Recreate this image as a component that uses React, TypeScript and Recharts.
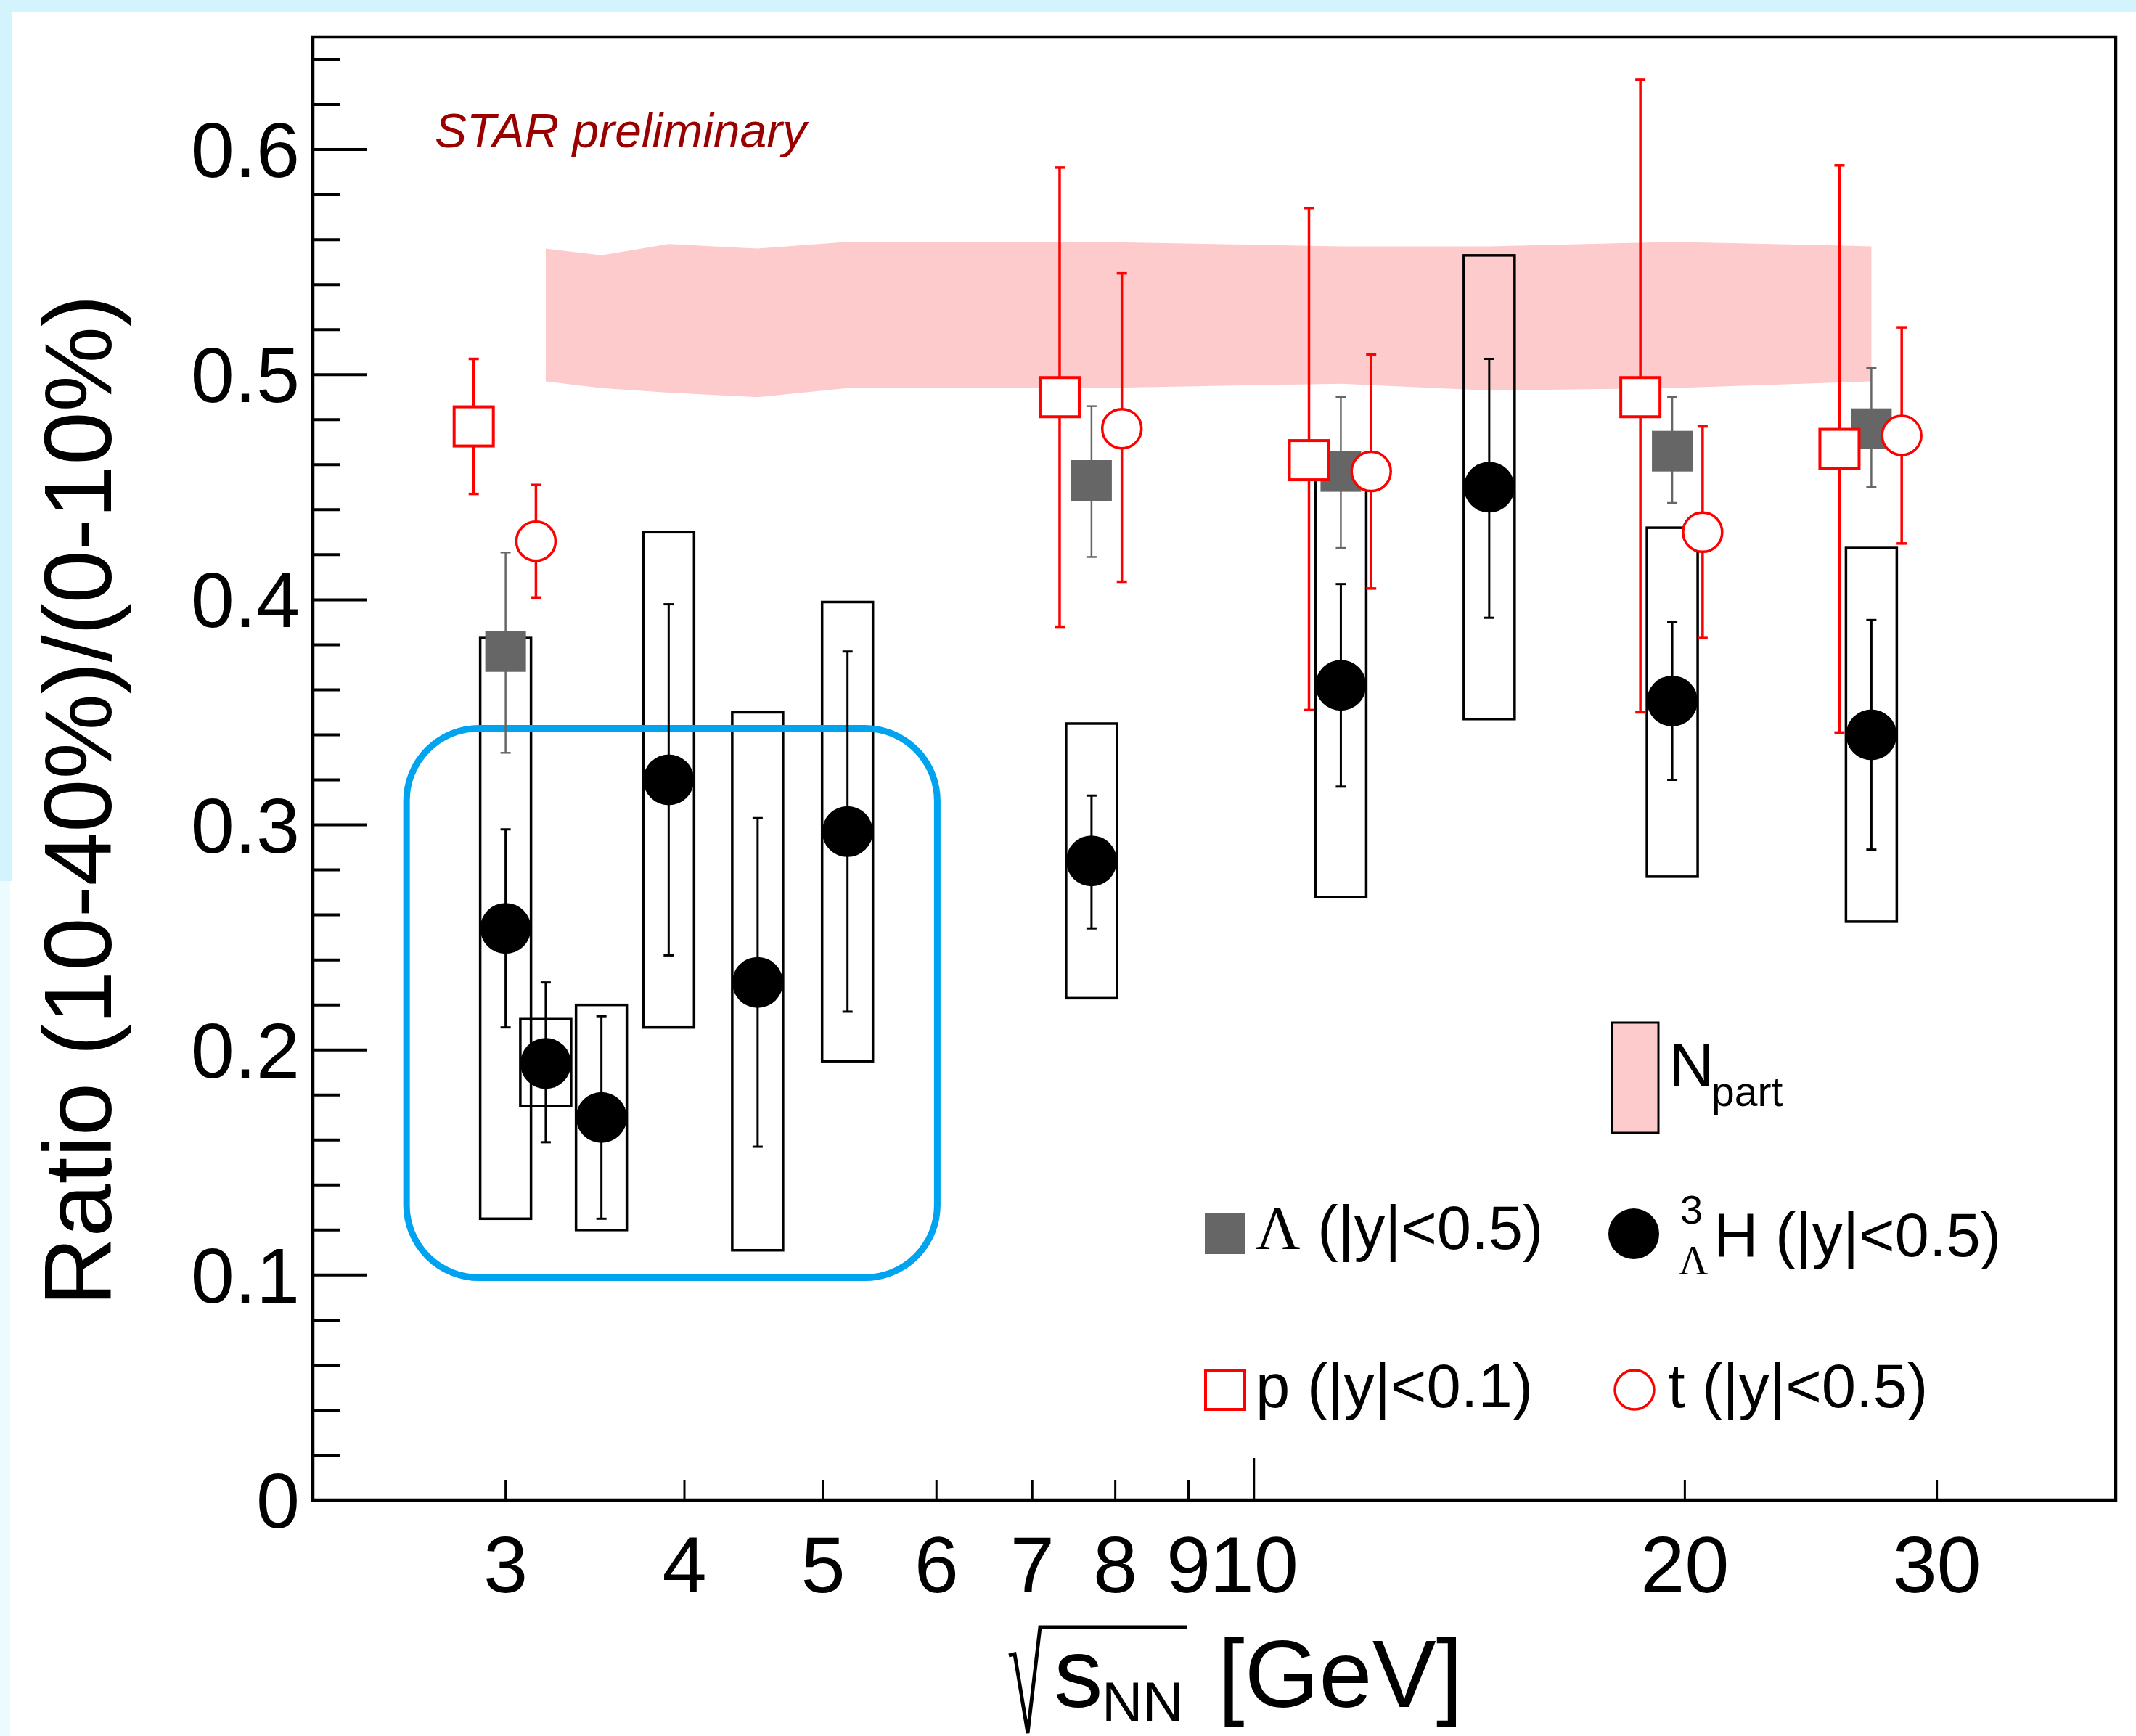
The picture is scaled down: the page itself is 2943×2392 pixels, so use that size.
import React from 'react';
import {
  ComposedChart,
  Area,
  Scatter,
  ErrorBar,
  XAxis,
  YAxis,
  ReferenceArea,
} from 'recharts';

// beam energies, sqrt(s_NN) in GeV
const energies = [3.0, 3.2, 3.5, 3.9, 4.5, 5.2, 7.7, 11.5, 14.6, 19.6, 27];

// hypertriton, |y|<0.5 : value, stat. error range, sys. box range
const htVal = [0.254, 0.194, 0.170, 0.320, 0.230, 0.297, 0.284, 0.362, 0.450, 0.355, 0.340];
const htStatLo = [0.210, 0.159, 0.125, 0.242, 0.157, 0.217, 0.254, 0.317, 0.392, 0.320, 0.289];
const htStatHi = [0.298, 0.230, 0.215, 0.398, 0.303, 0.377, 0.313, 0.407, 0.507, 0.390, 0.391];
const htSysLo = [0.125, 0.175, 0.120, 0.210, 0.111, 0.195, 0.223, 0.268, 0.347, 0.277, 0.257];
const htSysHi = [0.383, 0.214, 0.220, 0.430, 0.350, 0.399, 0.345, 0.456, 0.553, 0.432, 0.423];

// Lambda, proton, triton
const pidEnergies = [3.0, 7.7, 11.5, 19.6, 27];
const lamVal = [0.377, 0.453, 0.457, 0.466, 0.476];
const lamLo = [0.332, 0.419, 0.423, 0.443, 0.450];
const lamHi = [0.421, 0.486, 0.490, 0.490, 0.503];

const pVal = [0.477, 0.490, 0.462, 0.490, 0.467];
const pLo = [0.447, 0.388, 0.351, 0.350, 0.341];
const pHi = [0.507, 0.592, 0.574, 0.631, 0.593];

const tVal = [0.426, 0.476, 0.457, 0.430, 0.473];
const tLo = [0.401, 0.408, 0.405, 0.383, 0.425];
const tHi = [0.451, 0.545, 0.509, 0.477, 0.521];

// Npart scaling band
const npartEnergies = [3.2, 3.5, 3.9, 4.5, 5.2, 7.7, 11.5, 14.6, 19.6, 27];
const npartLo = [0.497, 0.494, 0.492, 0.490, 0.494, 0.494, 0.496, 0.493, 0.494, 0.497];
const npartHi = [0.556, 0.553, 0.558, 0.556, 0.559, 0.559, 0.557, 0.557, 0.559, 0.557];

const xTicks = [3, 4, 5, 6, 7, 8, 9, 10, 20, 30];
const yTicks = [
  0, 0.02, 0.04, 0.06, 0.08, 0.1, 0.12, 0.14, 0.16, 0.18, 0.2, 0.22, 0.24, 0.26, 0.28, 0.3,
  0.32, 0.34, 0.36, 0.38, 0.4, 0.42, 0.44, 0.46, 0.48, 0.5, 0.52, 0.54, 0.56, 0.58, 0.6, 0.62, 0.64,
];

// highlighted low-energy region (blue rounded box)
const highlight = { x1: 2.558, x2: 6.008, y1: 0.0988, y2: 0.3429 };

// small horizontal shifts so p / t do not sit on top of Lambda
const P_SHIFT = 0.95;
const T_SHIFT = 1.05;

const W = 2943;
const H = 2392;
const FONT = '"Liberation Sans", Arial, Helvetica, sans-serif';
const SERIF = '"Liberation Serif", "DejaVu Serif", "Times New Roman", serif';
const RED = '#ff0000';
const GREY = '#666666';
const PINK = '#fdcbcb';

const err = (d: any) => {
  const src = d && d.payload && d.payload.err ? d.payload : d;
  return src.err;
};

const htRows = energies.map((x, i) => ({
  x,
  y: htVal[i],
  err: [htVal[i] - htStatLo[i], htStatHi[i] - htVal[i]],
}));
const boxRows = energies.map((x, i) => ({ x, lo: htSysLo[i], hi: htSysHi[i] }));
const lamRows = pidEnergies.map((x, i) => ({
  x,
  y: lamVal[i],
  err: [lamVal[i] - lamLo[i], lamHi[i] - lamVal[i]],
}));
const pRows = pidEnergies.map((x, i) => ({
  x: x * P_SHIFT,
  y: pVal[i],
  err: [pVal[i] - pLo[i], pHi[i] - pVal[i]],
}));
const tRows = pidEnergies.map((x, i) => ({
  x: x * T_SHIFT,
  y: tVal[i],
  err: [tVal[i] - tLo[i], tHi[i] - tVal[i]],
}));
const bandRows = npartEnergies.map((x, i) => ({ x, range: [npartLo[i], npartHi[i]] }));

const renderXTick = (props: any) => {
  const { x, y, payload } = props;
  const major = payload.value === 10;
  return (
    <g>
      <line x1={x} x2={x} y1={y} y2={y - (major ? 58 : 28)} stroke="#000" strokeWidth={3} />
      <text x={x} y={y + 127} textAnchor="middle" fontSize={110} fontFamily={FONT} fill="#000">
        {payload.value}
      </text>
    </g>
  );
};

const renderYTick = (props: any) => {
  const { x, y, payload } = props;
  const v = payload.value;
  const major = Math.abs(v * 10 - Math.round(v * 10)) < 1e-6;
  return (
    <g>
      <line x1={x} x2={x + (major ? 74 : 37)} y1={y} y2={y} stroke="#000" strokeWidth={4} />
      {major && (
        <text x={x - 18} y={y + 38} textAnchor="end" fontSize={108} fontFamily={FONT} fill="#000">
          {v === 0 ? '0' : v.toFixed(1)}
        </text>
      )}
    </g>
  );
};

const sysBox = (p: any) => (
  <rect x={p.x - 35} y={p.y} width={70} height={p.height} fill="none" stroke="#000" strokeWidth={3.5} />
);

const blueBox = (p: any) => (
  <rect
    x={p.x}
    y={p.y}
    width={p.width}
    height={p.height}
    rx={100}
    ry={100}
    fill="none"
    stroke="#00a3ef"
    strokeWidth={9}
  />
);

const frame = (p: any) => (
  <rect x={p.x} y={p.y} width={p.width} height={p.height} fill="none" stroke="#000" strokeWidth={4.5} />
);

const dot = (p: any) => <circle cx={p.cx} cy={p.cy} r={35} fill="#000" />;
const lamSquare = (p: any) => <rect x={p.cx - 28} y={p.cy - 28} width={56} height={56} fill={GREY} />;
const openSquare = (p: any) => (
  <rect x={p.cx - 27} y={p.cy - 27} width={54} height={54} fill="#fff" stroke={RED} strokeWidth={4} />
);
const openCircle = (p: any) => <circle cx={p.cx} cy={p.cy} r={27} fill="#fff" stroke={RED} strokeWidth={3.5} />;

export default function App() {
  return (
    <div
      style={{
        position: 'absolute',
        left: 0,
        top: 0,
        width: W,
        height: H,
        background: '#fff',
        overflow: 'hidden',
      }}
    >
      <div style={{ position: 'absolute', left: 0, top: 0, width: W, height: 17, background: '#d4f4fd' }} />
      <div style={{ position: 'absolute', left: 0, top: 0, width: 16, height: 1214, background: '#d4f4fd' }} />
      <div style={{ position: 'absolute', left: 0, top: 1214, width: 14, height: H - 1214, background: '#ecfcfe' }} />

      <div style={{ position: 'absolute', left: 0, top: 0 }}>
        <ComposedChart width={W} height={H} margin={{ top: 51, right: 28, bottom: 265, left: 371 }}>
          <XAxis
            dataKey="x"
            type="number"
            scale="log"
            domain={[2.2, 40]}
            allowDataOverflow
            ticks={xTicks}
            interval={0}
            axisLine={false}
            tickLine={false}
            tickSize={0}
            tickMargin={0}
            height={60}
            tick={renderXTick}
          />
          <YAxis
            dataKey="y"
            type="number"
            domain={[0, 0.65]}
            allowDataOverflow
            ticks={yTicks}
            interval={0}
            axisLine={false}
            tickLine={false}
            tickSize={0}
            tickMargin={0}
            width={60}
            tick={renderYTick}
          />

          <Area
            data={bandRows}
            dataKey="range"
            type="linear"
            stroke="none"
            fill={PINK}
            fillOpacity={1}
            dot={false}
            activeDot={false}
            isAnimationActive={false}
          />

          {boxRows.map((b) => (
            <ReferenceArea
              key={`sys-${b.x}`}
              x1={b.x}
              x2={b.x}
              y1={b.lo}
              y2={b.hi}
              ifOverflow="visible"
              shape={sysBox}
            />
          ))}

          <Scatter data={htRows} shape={dot} isAnimationActive={false}>
            <ErrorBar dataKey={err} direction="y" width={7} stroke="#000" strokeWidth={3} />
          </Scatter>
          <Scatter data={lamRows} shape={lamSquare} isAnimationActive={false}>
            <ErrorBar dataKey={err} direction="y" width={7} stroke={GREY} strokeWidth={2.5} />
          </Scatter>
          <Scatter data={pRows} shape={openSquare} isAnimationActive={false}>
            <ErrorBar dataKey={err} direction="y" width={7} stroke={RED} strokeWidth={3.5} />
          </Scatter>
          <Scatter data={tRows} shape={openCircle} isAnimationActive={false}>
            <ErrorBar dataKey={err} direction="y" width={7} stroke={RED} strokeWidth={3.5} />
          </Scatter>

          <ReferenceArea
            x1={highlight.x1}
            x2={highlight.x2}
            y1={highlight.y1}
            y2={highlight.y2}
            ifOverflow="visible"
            shape={blueBox}
          />
          <ReferenceArea x1={2.2} x2={40} y1={0} y2={0.65} ifOverflow="visible" shape={frame} />
        </ComposedChart>
      </div>

      <svg
        width={W}
        height={H}
        style={{ position: 'absolute', left: 0, top: 0, pointerEvents: 'none' }}
        fontFamily={FONT}
      >
        {/* axis titles */}
        <text
          x={153}
          y={1103}
          transform="rotate(-90 153 1103)"
          textAnchor="middle"
          fontSize={132}
          fill="#000"
        >
          Ratio (10-40%)/(0-10%)
        </text>
        <polyline
          points="1390,2281 1398,2279 1416,2388 1433,2242 1636,2242"
          fill="none"
          stroke="#000"
          strokeWidth={5}
        />
        <text x={1452} y={2352} fontSize={135} fill="#000">s</text>
        <text x={1518} y={2372} fontSize={78} fill="#000">NN</text>
        <text x={1678} y={2352} fontSize={132} fill="#000">[GeV]</text>

        <text x={599} y={203} fontSize={66} fontStyle="italic" fill="#990000">
          STAR preliminary
        </text>

        {/* legend */}
        <rect x={2221} y={1409} width={64} height={152} fill={PINK} stroke="#000" strokeWidth={3} />
        <text x={2300} y={1497} fontSize={85} fill="#000">N</text>
        <text x={2358} y={1524} fontSize={57} fill="#000">part</text>

        <rect x={1660} y={1672} width={56} height={56} fill={GREY} />
        <text x={1730} y={1721} fontSize={85} fill="#000">
          <tspan fontFamily={SERIF}>Λ</tspan>
          <tspan> (|y|&lt;0.5)</tspan>
        </text>

        <circle cx={2251} cy={1700} r={35} fill="#000" />
        <text x={2315} y={1686} fontSize={56} fill="#000">3</text>
        <text x={2313} y={1756} fontSize={56} fontFamily={SERIF} fill="#000">Λ</text>
        <text x={2361} y={1731} fontSize={85} fill="#000">H (|y|&lt;0.5)</text>

        <rect x={1661} y={1888} width={54} height={54} fill="none" stroke={RED} strokeWidth={4} />
        <text x={1730} y={1939} fontSize={85} fill="#000">p (|y|&lt;0.1)</text>

        <circle cx={2252} cy={1915} r={27} fill="none" stroke={RED} strokeWidth={3.5} />
        <text x={2298} y={1939} fontSize={85} fill="#000">t (|y|&lt;0.5)</text>
      </svg>
    </div>
  );
}
